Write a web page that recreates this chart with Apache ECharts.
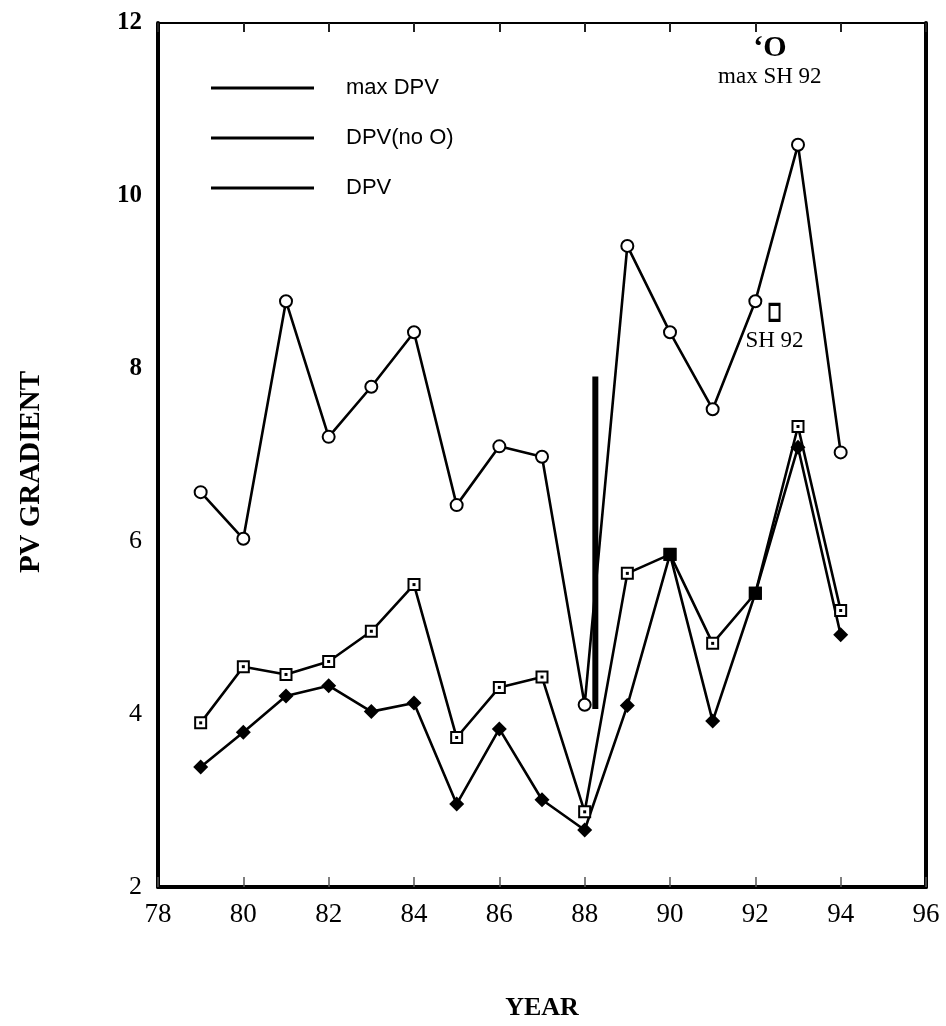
<!DOCTYPE html>
<html>
<head>
    <meta charset="utf-8">
    <title>PV gradient</title>
    <script src="https://cdn.jsdelivr.net/npm/echarts/dist/echarts.min.js"></script>
    <style>
        html, body { margin: 0; padding: 0; background: #fff; }
        #main { width: 946px; height: 1026px; }
    </style>
</head>
<body>
<div id="main"></div>
<script>
    // values
    var years = [79, 80, 81, 82, 83, 84, 85, 86, 87, 88, 89, 90, 91, 92, 93, 94];
    var maxDpv = [6.57, 6.03, 8.78, 7.21, 7.79, 8.42, 6.42, 7.10, 6.98, 4.11, 9.42, 8.42, 7.53, 8.78, 10.59, 7.03];
    var dpvNoO = [3.90, 4.55, 4.46, 4.61, 4.96, 5.50, 3.73, 4.31, 4.43, 2.87, 5.63, 5.85, 4.82, 5.40, 7.33, 5.20];
    var dpv = [3.39, 3.79, 4.21, 4.33, 4.03, 4.13, 2.96, 3.83, 3.01, 2.66, 4.10, 5.85, 3.92, 5.40, 7.09, 4.92];
    var filledYears = [90, 92];
    var barYear = 88.25;
    var barRange = [4.06, 7.91];
    var sh92 = [92.45, 8.65];
    var maxSh92 = [92.34, 11.71];
    var xTicks = ['78', '80', '82', '84', '86', '88', '90', '92', '94', '96'];
    var yTicks = ['2', '4', '6', '8', '10', '12'];
    var boldY = ['8', '10', '12'];

    var serif = '"Liberation Serif", "DejaVu Serif", serif';
    var sans = '"Liberation Sans", Arial, sans-serif';

    function pairs(vals, special) {
        return years.map(function (y, i) {
            if (special && filledYears.indexOf(y) >= 0) {
                return {value: [y, vals[i]], symbol: 'rect', symbolSize: 13, itemStyle: {color: '#000'}};
            }
            return [y, vals[i]];
        });
    }

    var lineW = 2.6;
    var chart = echarts.init(document.getElementById('main'));
    chart.setOption({
        animation: false,
        backgroundColor: '#fff',
        grid: {left: 158, right: 20, top: 23, bottom: 129},
        legend: {
            data: ['max DPV', 'DPV(no O)', 'DPV'],
            orient: 'vertical',
            left: 206,
            top: 71,
            icon: 'rect',
            itemWidth: 103,
            itemHeight: 3,
            itemGap: 26,
            itemStyle: {color: '#000', borderWidth: 0},
            textStyle: {fontFamily: sans, fontSize: 22, color: '#000', lineHeight: 24, padding: [0, 0, 0, 27]}
        },
        graphic: [{
            type: 'text',
            x: 32, y: 472,
            rotation: Math.PI / 2,
            style: {
                text: 'PV GRADIENT', fill: '#000',
                font: 'bold 29px "Liberation Serif", serif',
                align: 'center', verticalAlign: 'middle'
            }
        }],
        xAxis: [{
            type: 'value', min: 78, max: 96, interval: 2, position: 'bottom',
            name: 'YEAR', nameLocation: 'middle', nameGap: 108,
            nameTextStyle: {fontFamily: serif, fontWeight: 'bold', fontSize: 26, color: '#000'},
            axisLine: {lineStyle: {color: '#000', width: 4}},
            axisTick: {inside: true, length: 10, lineStyle: {color: '#555', width: 1.5}},
            axisLabel: {
                fontFamily: serif, fontSize: 27, color: '#000', margin: 14,
                formatter: function (v) { return xTicks[(v - 78) / 2]; }
            },
            splitLine: {show: false}
        }, {
            type: 'value', min: 78, max: 96, interval: 2, position: 'top',
            axisLine: {lineStyle: {color: '#000', width: 2}},
            axisTick: {inside: true, length: 9, lineStyle: {color: '#222', width: 2}},
            axisLabel: {show: false},
            splitLine: {show: false}
        }],
        yAxis: [{
            type: 'value', min: 2, max: 12, interval: 2, position: 'left',
            axisLine: {show: true, lineStyle: {color: '#000', width: 4}},
            axisTick: {show: false},
            axisLabel: {
                margin: 16,
                formatter: function (v) {
                    var t = yTicks[(v - 2) / 2];
                    return boldY.indexOf(t) >= 0 ? '{b|' + t + '}' : '{n|' + t + '}';
                },
                rich: {
                    b: {fontFamily: serif, fontWeight: 'bold', fontSize: 25, color: '#000'},
                    n: {fontFamily: serif, fontSize: 26, color: '#000'}
                }
            },
            splitLine: {show: false}
        }, {
            type: 'value', min: 2, max: 12, interval: 2, position: 'right',
            axisLine: {show: true, lineStyle: {color: '#000', width: 4}},
            axisTick: {show: false},
            axisLabel: {show: false},
            splitLine: {show: false}
        }],
        series: [{
            name: 'max DPV', type: 'line', data: pairs(maxDpv, false),
            symbol: 'emptyCircle', symbolSize: 12,
            lineStyle: {color: '#000', width: lineW},
            itemStyle: {color: '#000', borderWidth: 2.6}
        }, {
            name: 'DPV(no O)', type: 'line', data: pairs(dpvNoO, true),
            symbol: 'emptyRect', symbolSize: 11,
            lineStyle: {color: '#000', width: lineW},
            itemStyle: {color: '#000', borderWidth: 2.5}
        }, {
            name: 'DPV', type: 'line', data: pairs(dpv, true),
            symbol: 'diamond', symbolSize: 15,
            lineStyle: {color: '#000', width: lineW},
            itemStyle: {color: '#000'}
        }, {
            // dots inside the open squares
            name: 'dots', type: 'scatter', z: 5,
            data: years.filter(function (y) { return filledYears.indexOf(y) < 0; }).map(function (y) {
                return [y, dpvNoO[years.indexOf(y)]];
            }),
            symbol: 'rect', symbolSize: 3,
            itemStyle: {color: '#000', opacity: 1}
        }, {
            name: 'bar', type: 'line',
            data: [[barYear, barRange[0]], [barYear, barRange[1]]],
            symbol: 'none',
            lineStyle: {color: '#000', width: 6, cap: 'butt'}
        }, {
            name: 'SH 92', type: 'scatter',
            data: [sh92],
            symbol: 'rect', symbolSize: [10, 16],
            itemStyle: {color: '#fff', borderColor: '#000', borderWidth: 2.5, opacity: 1},
            label: {
                show: true, position: 'bottom', distance: 7,
                formatter: 'SH 92',
                fontFamily: serif, fontSize: 23, color: '#000', opacity: 1
            }
        }, {
            name: 'max SH 92', type: 'scatter',
            data: [maxSh92],
            symbol: 'circle', symbolSize: 1,
            itemStyle: {color: 'rgba(0,0,0,0)', opacity: 1},
            label: {
                show: true, position: 'inside', opacity: 1,
                formatter: '{o|\u02BBO}\n{t|max SH 92}',
                rich: {
                    o: {fontFamily: serif, fontWeight: 'bold', fontSize: 30, color: '#000', lineHeight: 30, align: 'center'},
                    t: {fontFamily: serif, fontSize: 23, color: '#000', lineHeight: 28, align: 'center'}
                },
                offset: [0, 14]
            }
        }]
    });
</script>
</body>
</html>
